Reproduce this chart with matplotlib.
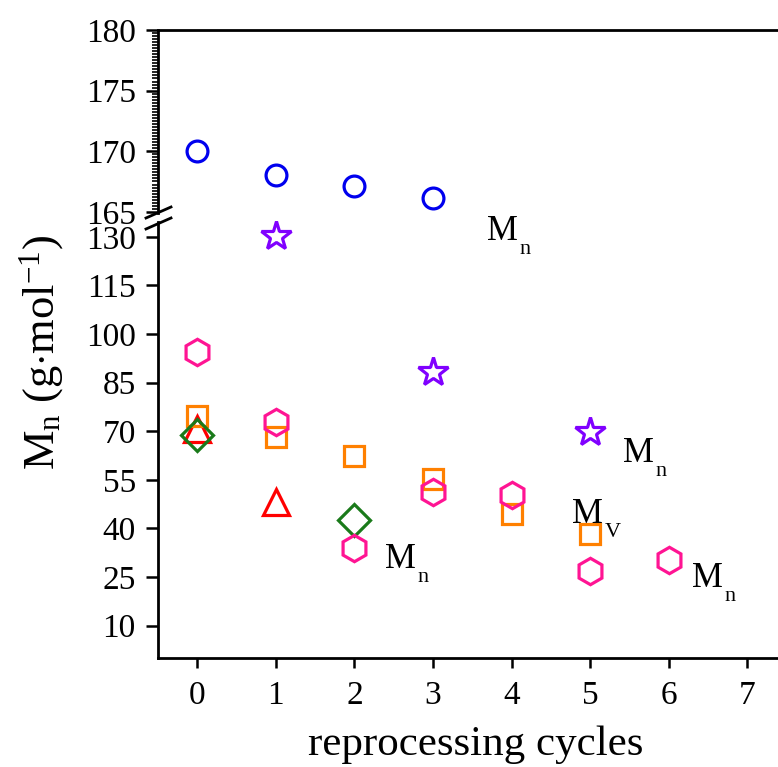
import numpy as np
import matplotlib
matplotlib.use('Agg')
import matplotlib.pyplot as plt
from matplotlib.lines import Line2D
from matplotlib.transforms import ScaledTranslation

plt.rcParams['font.family'] = 'Liberation Serif'
plt.rcParams['mathtext.fontset'] = 'custom'
plt.rcParams['mathtext.rm'] = 'Liberation Serif'
plt.rcParams['mathtext.it'] = 'Liberation Serif:italic'

# data
circ_x = [0, 1, 2, 3]
circ_y = [170.0, 168.0, 167.1, 166.1]
star_x = [1, 3, 5]
star_y = [130.3, 88.2, 69.9]
hex_x = [0, 1, 2, 3, 4, 5, 6]
hex_y = [94.5, 73.0, 34.0, 51.3, 50.3, 26.8, 30.3]
sq_x = [0, 1, 2, 3, 4, 5]
sq_y = [74.6, 68.3, 62.5, 55.4, 44.4, 38.2]
tri_x = [0, 1]
tri_y = [70.6, 48.3]
dia_x = [0, 2]
dia_y = [68.7, 42.6]

# labels: (x, y of M baseline, subscript)
labels = [(3.69, 129.1, 'n'), (5.42, 60.6, 'n'), (4.77, 41.7, 'V'),
          (2.39, 27.8, 'n'), (6.30, 22.0, 'n')]

W, H = 778, 767
fig = plt.figure(figsize=(W/100, H/100), dpi=100)

def fx(px):
    return px / W

def fy(py):
    return 1 - py / H

left = fx(158)
right = 1.0 + 0.02
ax_top = fig.add_axes([left, fy(213), right - left, fy(30) - fy(213)])
ax_bot = fig.add_axes([left, fy(658), right - left, fy(222) - fy(658)])

xlim = (-0.5, 7.39 + 0.02 * W / 78.6)
for ax in (ax_top, ax_bot):
    ax.set_xlim(xlim)
    ax.spines['right'].set_visible(False)
    ax.spines['left'].set_linewidth(2)
    ax.tick_params(axis='y', labelsize=24, width=1.8, length=9, pad=7, direction='out')

ax_top.set_ylim(164.9, 180)
ax_bot.set_ylim(0, 134.6)

ax_top.spines['bottom'].set_visible(False)
ax_top.spines['top'].set_linewidth(2)
ax_top.set_xticks([])
ax_top.set_yticks([165, 170, 175, 180])
ax_top.set_yticks(np.arange(165, 180, 0.25), minor=True)
ax_top.tick_params(axis='y', which='minor', length=4.5, width=1.2)

ax_bot.spines['top'].set_visible(False)
ax_bot.spines['bottom'].set_linewidth(2)
ax_bot.set_yticks(np.arange(10, 131, 15))
ax_bot.set_xticks(range(8))
ax_bot.tick_params(axis='x', labelsize=24, width=1.8, length=7.5, pad=9)

mew = 2.3
ax_top.plot(circ_x, circ_y, 'o', ms=15, mfc='none', mec='#0000ee', mew=mew, clip_on=False)
ax_bot.plot(tri_x, tri_y, '^', ms=19, mfc='none', mec='#ff0000', mew=mew, clip_on=False)
ax_bot.plot(sq_x, sq_y, 's', ms=14, mfc='none', mec='#ff8000', mew=mew, clip_on=False)
ax_bot.plot(dia_x, dia_y, 'D', ms=16.5, mfc='none', mec='#1a7a1a', mew=mew, clip_on=False)
ax_bot.plot(hex_x, hex_y, 'h', ms=19, mfc='none', mec='#ff1493', mew=mew, clip_on=False)
ax_bot.plot(star_x, star_y, '*', ms=22, mfc='none', mec='#8000ff', mew=mew, clip_on=False)

for x, y, sub in labels:
    ax_bot.text(x, y, 'M', fontsize=25, ha='left', va='baseline', clip_on=False)
    off = ax_bot.transData + ScaledTranslation(0.325, -0.14, fig.dpi_scale_trans)
    ax_bot.text(x, y, sub, fontsize=16, ha='left', va='baseline',
                transform=off, clip_on=False)

ax_bot.set_xlabel('reprocessing cycles', fontsize=31, labelpad=10)
fig.text(fx(42), fy(352), r'$\mathrm{M}_\mathrm{n}\ (\mathrm{g{\cdot}mol}^{-1})$',
         rotation=90, fontsize=32, ha='center', va='center')

# break marks on the left spine
for y0 in (218, 229):
    fig.add_artist(Line2D([fx(146), fx(171)], [fy(y0), fy(y0 - 11)],
                          color='black', lw=2))

fig.savefig('out.png', dpi=100)
